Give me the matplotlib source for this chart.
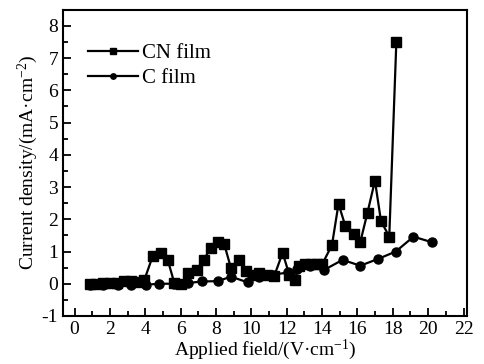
import numpy as np
import matplotlib
matplotlib.use("Agg")
import matplotlib.pyplot as plt
from matplotlib.ticker import MultipleLocator

plt.rcParams["font.family"] = ["Liberation Serif", "DejaVu Serif"]
plt.rcParams["mathtext.fontset"] = "custom"
plt.rcParams["mathtext.rm"] = "Liberation Serif"
plt.rcParams["mathtext.it"] = "Liberation Serif:italic"
plt.rcParams["axes.unicode_minus"] = False

# CN film (squares)
cn_x = [0.85, 1.2, 1.6, 2.0, 2.4, 2.8, 3.2, 3.6, 3.95, 4.43, 4.9, 5.27, 5.65,
        6.03, 6.4, 6.9, 7.3, 7.7, 8.1, 8.47, 8.85, 9.3, 9.7, 10.07, 10.45,
        10.9, 11.3, 11.77, 12.15, 12.45, 12.7, 13.05, 13.4, 13.7, 14.0, 14.56,
        14.93, 15.31, 15.78, 16.16, 16.57, 16.99, 17.33, 17.8, 18.2]
cn_y = [-0.02, -0.02, 0.02, 0.03, 0.03, 0.08, 0.08, 0.06, 0.12, 0.87, 0.95,
        0.74, 0.01, -0.02, 0.33, 0.42, 0.73, 1.12, 1.28, 1.22, 0.48, 0.74,
        0.38, 0.28, 0.33, 0.28, 0.25, 0.96, 0.27, 0.12, 0.55, 0.6, 0.62, 0.62,
        0.6, 1.2, 2.48, 1.8, 1.54, 1.29, 2.21, 3.2, 1.95, 1.46, 7.49]

# C film (circles)
c_x = [0.85, 1.6, 2.45, 3.2, 4.05, 4.8, 5.6, 6.4, 7.2, 8.1, 8.85, 9.8, 10.45,
       11.2, 12.1, 12.6, 13.3, 14.12, 15.16, 16.16, 17.17, 18.17, 19.17, 20.2]
c_y = [-0.05, -0.03, -0.05, -0.03, -0.03, 0.0, 0.0, 0.02, 0.07, 0.08, 0.22,
       0.04, 0.2, 0.28, 0.35, 0.45, 0.55, 0.43, 0.74, 0.56, 0.77, 1.0, 1.46,
       1.29]

fig = plt.figure(figsize=(4.85, 3.64), dpi=100)
ax = fig.add_axes([0.130, 0.132, 0.833, 0.841])

ax.plot(cn_x, cn_y, "-s", color="black", lw=1.6, ms=6.5, label="CN film")
ax.plot(c_x, c_y, "-o", color="black", lw=1.6, ms=6.5, label="C film")

ax.set_xlim(-0.65, 22.2)
ax.set_ylim(-1, 8.5)
ax.xaxis.set_major_locator(MultipleLocator(2))
ax.xaxis.set_minor_locator(MultipleLocator(1))
ax.yaxis.set_major_locator(MultipleLocator(1))
ax.yaxis.set_minor_locator(MultipleLocator(0.5))
ax.tick_params(which="both", direction="in", labelsize=14, width=1.3)
ax.tick_params(which="major", length=6)
ax.tick_params(which="minor", length=3.5)
for s in ax.spines.values():
    s.set_linewidth(1.5)

ax.set_xlabel("Applied field/(V·cm$^{-1}$)", fontsize=14, labelpad=0)
ax.set_ylabel("Current density/(mA·cm$^{-2}$)", fontsize=14, labelpad=1)

ax.legend(loc="upper left", frameon=False, fontsize=15, markerscale=0.6,
          handlelength=2.4, handletextpad=0.2, labelspacing=0.25,
          bbox_to_anchor=(0.015, 0.95))

fig.savefig("out.png", dpi=100)
